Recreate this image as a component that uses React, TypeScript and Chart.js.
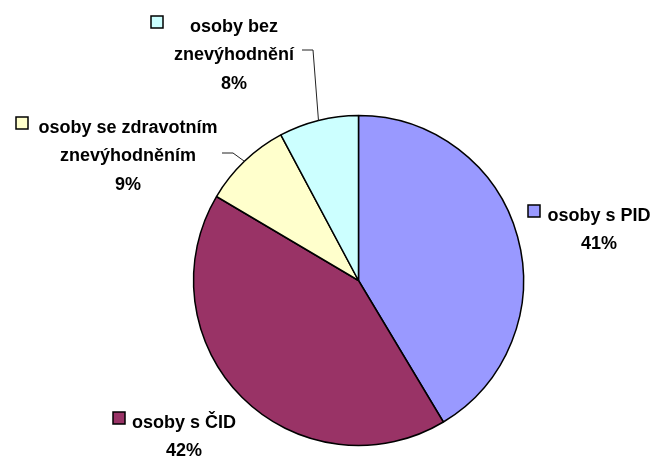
import React, { useEffect, useRef } from "react";
import { Chart, registerables } from "chart.js";

Chart.register(...registerables);

// ---- data ----
const CATEGORIES = [
  "osoby s PID",
  "osoby s ČID",
  "osoby se zdravotním znevýhodněním",
  "osoby bez znevýhodnění",
];
const LABEL_LINES = [
  ["osoby s PID"],
  ["osoby s ČID"],
  ["osoby se zdravotním", "znevýhodněním"],
  ["osoby bez", "znevýhodnění"],
];
const VALUES = [41.4, 42.1, 8.7, 7.8];
const COLORS = ["#9999FF", "#993366", "#FFFFCC", "#CCFFFF"];

// ---- label layout (text centre x, first baseline, legend key x, leader start/elbow) ----
const LABEL_LAYOUT = [
  { cx: 599, base: 221, keyX: 528, leader: null },
  { cx: 184, base: 428, keyX: 113, leader: null },
  { cx: 128, base: 133, keyX: 16, leader: [[222, 153], [233, 153]] },
  { cx: 234, base: 32, keyX: 151, leader: [[302, 50], [313, 50]] },
];
const LINE_HEIGHT = 28.3;
const FONT = 'bold 18px "Liberation Sans", Arial, sans-serif';

const labelPlugin = {
  id: "pieLabels",
  afterDraw(chart: any) {
    const ctx = chart.ctx;
    const meta = chart.getDatasetMeta(0);
    const total = VALUES.reduce((a, b) => a + b, 0);
    ctx.save();
    meta.data.forEach((arc: any, i: number) => {
      const lay = LABEL_LAYOUT[i];
      const lines = [...LABEL_LINES[i], Math.round((VALUES[i] / total) * 100) + "%"];
      ctx.font = FONT;
      ctx.fillStyle = "#000";
      ctx.textAlign = "center";
      ctx.textBaseline = "alphabetic";
      lines.forEach((t, k) => {
        ctx.fillText(t, lay.cx, lay.base + k * LINE_HEIGHT);
      });
      // legend key
      ctx.fillStyle = COLORS[i];
      ctx.fillRect(lay.keyX, lay.base - 16, 12, 12);
      ctx.strokeStyle = "#000";
      ctx.lineWidth = 1.5;
      ctx.strokeRect(lay.keyX, lay.base - 16, 12, 12);
      // leader line
      if (lay.leader) {
        const mid = (arc.startAngle + arc.endAngle) / 2;
        const px = arc.x + Math.cos(mid) * arc.outerRadius;
        const py = arc.y + Math.sin(mid) * arc.outerRadius;
        ctx.beginPath();
        ctx.moveTo(lay.leader[0][0], lay.leader[0][1]);
        ctx.lineTo(lay.leader[1][0], lay.leader[1][1]);
        ctx.lineTo(px, py);
        ctx.strokeStyle = "#222";
        ctx.lineWidth = 1;
        ctx.stroke();
      }
    });
    ctx.restore();
  },
};

export default function App() {
  const ref = useRef<HTMLCanvasElement | null>(null);
  useEffect(() => {
    if (!ref.current) return;
    const chart = new Chart(ref.current, {
      type: "pie",
      data: {
        labels: CATEGORIES,
        datasets: [
          {
            data: VALUES,
            backgroundColor: COLORS,
            borderColor: "#000",
            borderWidth: 1.5,
          },
        ],
      },
      options: {
        responsive: false,
        animation: false,
        radius: 165,
        layout: { padding: { left: 65, right: 0, top: 100, bottom: 0 } },
        plugins: {
          legend: { display: false },
          tooltip: { enabled: false },
        },
      } as any,
      plugins: [labelPlugin],
    });
    return () => chart.destroy();
  }, []);
  return (
    <div style={{ position: "fixed", left: 0, top: 0, width: 652, height: 461, background: "#fff" }}>
      <canvas ref={ref} width={652} height={461} style={{ display: "block" }} />
    </div>
  );
}
